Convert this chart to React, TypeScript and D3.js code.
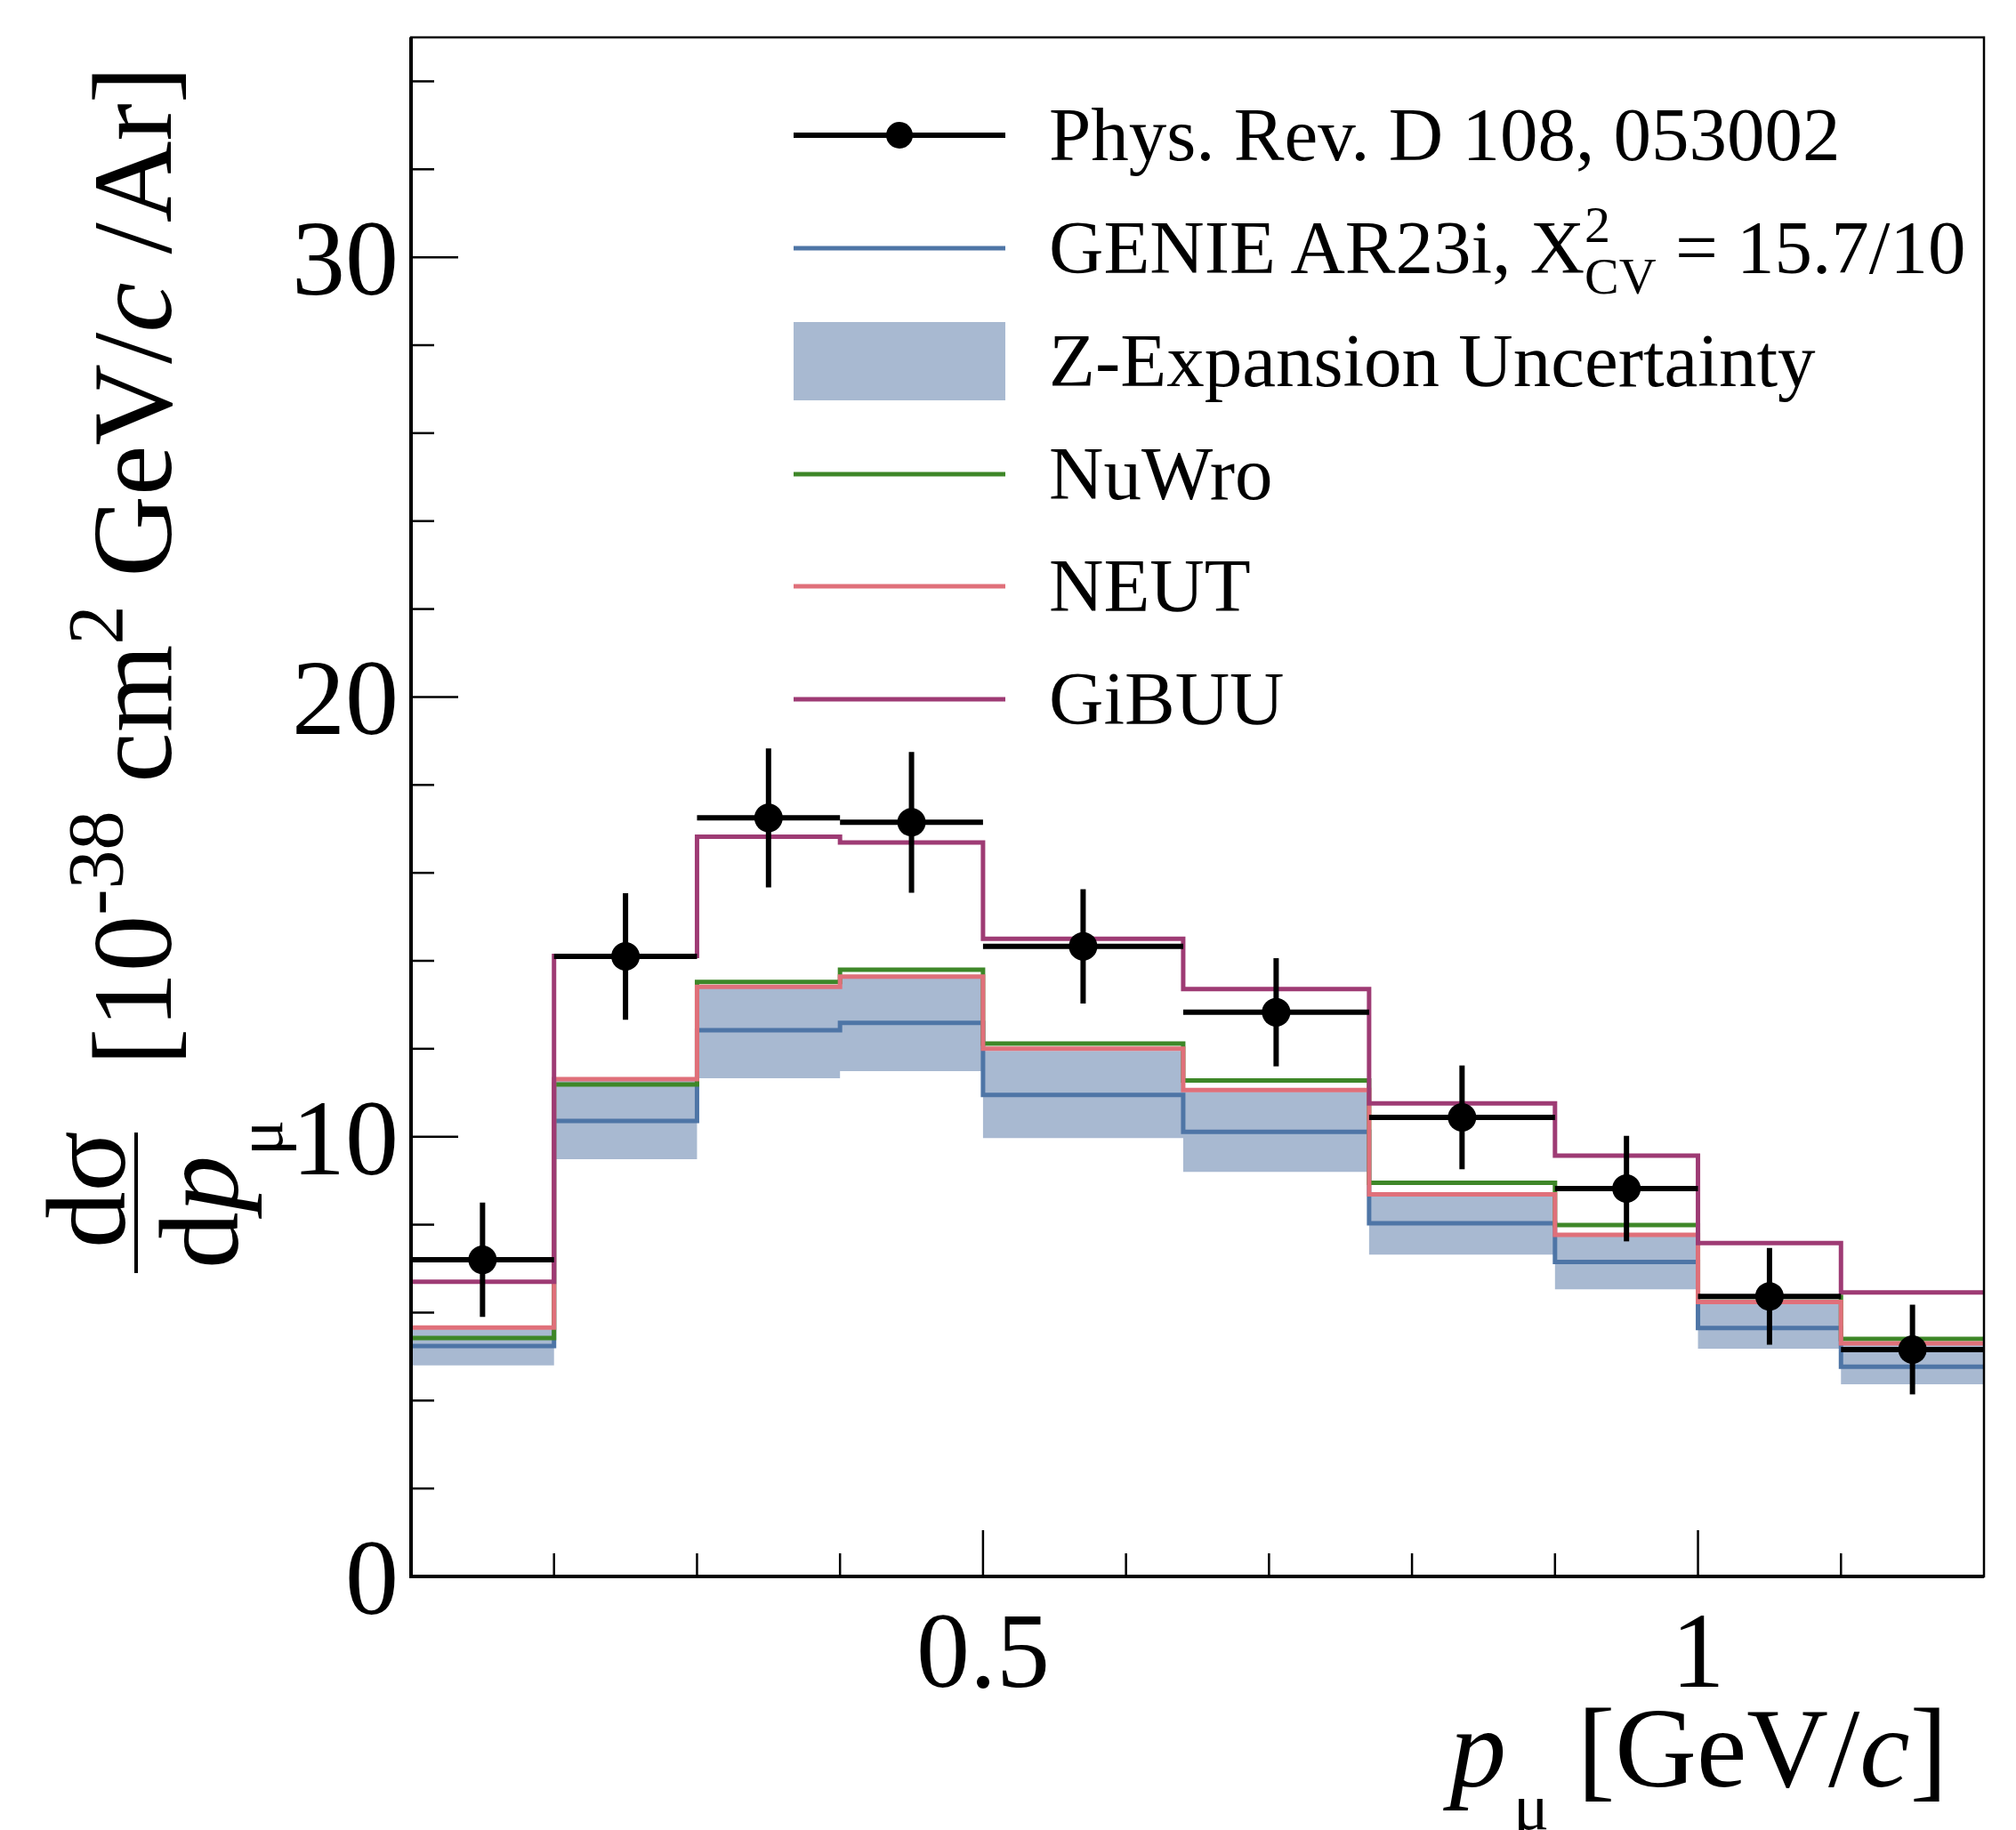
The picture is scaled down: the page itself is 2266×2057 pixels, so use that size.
import React, { useMemo } from "react";
import * as d3 from "d3";

const WIDTH = 2266;
const HEIGHT = 2057;
const MARGIN = { top: 42, right: 36, bottom: 285, left: 462 };
const FONT = "'Liberation Serif', 'DejaVu Serif', serif";

// p_mu bin edges [GeV/c]
const binEdges = [0.1, 0.2, 0.3, 0.4, 0.5, 0.64, 0.77, 0.9, 1.0, 1.1, 1.2];

// measured cross section (Phys. Rev. D 108, 053002)
const dataValues = [7.2, 14.1, 17.25, 17.15, 14.33, 12.83, 10.44, 8.82, 6.37, 5.16];
const dataErrors = [1.3, 1.44, 1.58, 1.6, 1.3, 1.23, 1.18, 1.2, 1.1, 1.02];

// generator predictions
const genieValues = [5.24, 10.36, 12.42, 12.59, 10.95, 10.11, 8.03, 7.15, 5.65, 4.77];
const nuwroValues = [5.42, 11.19, 13.52, 13.8, 12.12, 11.28, 8.95, 7.99, 6.36, 5.4];
const neutValues = [5.66, 11.31, 13.41, 13.64, 12.0, 11.06, 8.69, 7.77, 6.24, 5.3];
const gibuuValues = [6.7, 14.11, 16.82, 16.69, 14.5, 13.36, 10.76, 9.57, 7.58, 6.46];

// z-expansion band around GENIE
const bandHigh = [5.62, 11.28, 13.38, 13.6, 11.95, 11.02, 8.65, 7.74, 6.21, 5.27];
const bandLow = [4.8, 9.49, 11.33, 11.49, 9.97, 9.2, 7.32, 6.53, 5.18, 4.37];

const yMajorTicks = [0, 10, 20, 30];
const xMajorTicks = [0.5, 1];
const xTickLabels = ["0.5", "1"];

const COLORS = {
  genie: "#4e75a6",
  band: "#a8b9d1",
  nuwro: "#3e8728",
  neut: "#e0707a",
  gibuu: "#9e3b74",
};

const legendItems = [
  { key: "data", label: "Phys. Rev. D 108, 053002" },
  { key: "genie", label: "GENIE" },
  { key: "band", label: "Z-Expansion Uncertainty" },
  { key: "nuwro", label: "NuWro" },
  { key: "neut", label: "NEUT" },
  { key: "gibuu", label: "GiBUU" },
];

export default function App() {
  const x0 = MARGIN.left;
  const x1 = WIDTH - MARGIN.right;
  const y0 = MARGIN.top;
  const y1 = HEIGHT - MARGIN.bottom;

  const xScale = useMemo(
    () => d3.scaleLinear().domain([0.1, 1.2]).range([x0, x1]),
    []
  );
  const yScale = useMemo(
    () => d3.scaleLinear().domain([0, 35]).range([y1, y0]),
    []
  );

  // step line through bin edges (last value repeated to close the final bin)
  const stepPath = (vals: number[]) => {
    const pts = binEdges.map((e, i) => [e, vals[Math.min(i, vals.length - 1)]]);
    return d3
      .line<number[]>()
      .x((d) => xScale(d[0]))
      .y((d) => yScale(d[1]))
      .curve(d3.curveStepAfter)(pts);
  };

  const bandPath = d3
    .area<number>()
    .x((d, i) => xScale(binEdges[i]))
    .y0((d, i) => yScale(bandLow[Math.min(i, bandLow.length - 1)]))
    .y1((d, i) => yScale(bandHigh[Math.min(i, bandHigh.length - 1)]))
    .curve(d3.curveStepAfter)(binEdges);

  const yMinor = d3.range(0, 35.01, 2).filter((v) => v % 10 !== 0);
  const xMinor = d3.range(0.2, 1.15, 0.1).filter((v) => Math.abs(v - 0.5) > 1e-6 && Math.abs(v - 1) > 1e-6);

  const lineW = 5;
  const legX0 = 892;
  const legX1 = 1130;
  const legText = 1179;
  const legRows = [152, 279, 406, 533, 659, 786];

  return (
    <svg
      width={WIDTH}
      height={HEIGHT}
      style={{ position: "absolute", left: 0, top: 0, background: "#fff" }}
      fontFamily={FONT}
    >
      <rect x={0} y={0} width={WIDTH} height={HEIGHT} fill="#fff" />
      <defs>
        <clipPath id="plotclip">
          <rect x={x0} y={y0} width={x1 - x0} height={y1 - y0} />
        </clipPath>
      </defs>

      <g clipPath="url(#plotclip)">
        <path d={bandPath || ""} fill={COLORS.band} stroke="none" />
        <path d={stepPath(genieValues) || ""} fill="none" stroke={COLORS.genie} strokeWidth={lineW} />
        <path d={stepPath(nuwroValues) || ""} fill="none" stroke={COLORS.nuwro} strokeWidth={lineW} />
        <path d={stepPath(neutValues) || ""} fill="none" stroke={COLORS.neut} strokeWidth={lineW} />
        <path d={stepPath(gibuuValues) || ""} fill="none" stroke={COLORS.gibuu} strokeWidth={lineW} />

        {/* data points */}
        {dataValues.map((v, i) => {
          const lo = binEdges[i];
          const hi = binEdges[i + 1];
          const cx = xScale((lo + hi) / 2);
          const cy = yScale(v);
          return (
            <g key={i}>
              <line x1={xScale(lo)} x2={xScale(hi)} y1={cy} y2={cy} stroke="#000" strokeWidth={6} />
              <line
                x1={cx}
                x2={cx}
                y1={yScale(v + dataErrors[i])}
                y2={yScale(v - dataErrors[i])}
                stroke="#000"
                strokeWidth={6}
              />
              <circle cx={cx} cy={cy} r={16} fill="#000" />
            </g>
          );
        })}
      </g>

      {/* frame */}
      <rect x={x0} y={y0} width={x1 - x0} height={y1 - y0} fill="none" stroke="#000" strokeWidth={2.5} />
      <line x1={x0} x2={x0} y1={y0} y2={y1 + 2} stroke="#000" strokeWidth={4} />
      <line x1={x0 - 2} x2={x1} y1={y1} y2={y1} stroke="#000" strokeWidth={4} />

      {/* y ticks */}
      {yMajorTicks.map((t) => (
        <g key={"ym" + t}>
          <line x1={x0} x2={x0 + 53} y1={yScale(t)} y2={yScale(t)} stroke="#000" strokeWidth={2.5} />
          <text x={448} y={yScale(t) + 42} fontSize={120} textAnchor="end" fill="#000">
            {t}
          </text>
        </g>
      ))}
      {yMinor.map((t) => (
        <line key={"yn" + t} x1={x0} x2={x0 + 26} y1={yScale(t)} y2={yScale(t)} stroke="#000" strokeWidth={2.5} />
      ))}

      {/* x ticks */}
      {xMajorTicks.map((t, i) => (
        <g key={"xm" + t}>
          <line x1={xScale(t)} x2={xScale(t)} y1={y1} y2={y1 - 52} stroke="#000" strokeWidth={2.5} />
          <text x={xScale(t)} y={1896} fontSize={120} textAnchor="middle" fill="#000">
            {xTickLabels[i]}
          </text>
        </g>
      ))}
      {xMinor.map((t) => (
        <line key={"xn" + t} x1={xScale(t)} x2={xScale(t)} y1={y1} y2={y1 - 26} stroke="#000" strokeWidth={2.5} />
      ))}

      {/* x title */}
      <text x={2189} y={2008} fontSize={127} textAnchor="end" fill="#000">
        <tspan fontStyle="italic">p</tspan>
        <tspan fontSize={75} dy={48} dx={8}>μ</tspan>
        <tspan dy={-48}>{" [GeV/"}</tspan>
        <tspan fontStyle="italic">c</tspan>
        <tspan>]</tspan>
      </text>

      {/* y title */}
      <text transform="translate(140,1337) rotate(-90)" fontSize={127} textAnchor="middle" fill="#000">
        dσ
      </text>
      <line x1={153} x2={153} y1={1273} y2={1431} stroke="#000" strokeWidth={4} />
      <text transform="translate(267,1426) rotate(-90)" fontSize={127} fill="#000">
        <tspan>d</tspan>
        <tspan fontStyle="italic">p</tspan>
        <tspan fontSize={75} dy={50}>μ</tspan>
      </text>
      <text transform="translate(192,1198) rotate(-90)" fontSize={127} fill="#000">
        <tspan>[10</tspan>
        <tspan fontSize={88} dy={-55}>-38</tspan>
        <tspan dy={55}>{" cm"}</tspan>
        <tspan fontSize={88} dy={-55}>2</tspan>
        <tspan dy={55}>{" GeV/"}</tspan>
        <tspan fontStyle="italic">c</tspan>
        <tspan>{" /Ar]"}</tspan>
      </text>

      {/* legend */}
      {legendItems.map((item, i) => {
        const cy = legRows[i];
        let sym: React.ReactNode = null;
        if (item.key === "data") {
          sym = (
            <g>
              <line x1={legX0} x2={legX1} y1={cy} y2={cy} stroke="#000" strokeWidth={6} />
              <circle cx={(legX0 + legX1) / 2} cy={cy} r={15} fill="#000" />
            </g>
          );
        } else if (item.key === "band") {
          sym = <rect x={legX0} y={cy - 44} width={legX1 - legX0} height={88} fill={COLORS.band} />;
        } else {
          sym = (
            <line
              x1={legX0}
              x2={legX1}
              y1={cy}
              y2={cy}
              stroke={(COLORS as any)[item.key]}
              strokeWidth={lineW}
            />
          );
        }
        return (
          <g key={item.key}>
            {sym}
            {item.key === "genie" ? (
              <text x={legText} y={cy + 28} fontSize={85} fill="#000">
                <tspan>GENIE AR23i, X</tspan>
                <tspan fontSize={58} dy={-35}>2</tspan>
                <tspan fontSize={58} dy={58} dx={-29}>CV</tspan>
                <tspan dy={-23}>{" = 15.7/10"}</tspan>
              </text>
            ) : (
              <text x={legText} y={cy + 28} fontSize={85} fill="#000">
                {item.label}
              </text>
            )}
          </g>
        );
      })}
    </svg>
  );
}
